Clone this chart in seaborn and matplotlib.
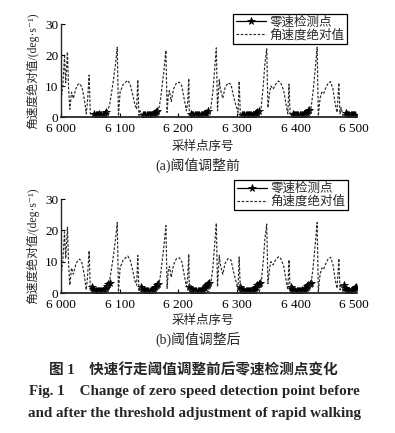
import numpy as np
import pandas as pd
import matplotlib
matplotlib.use("Agg")
import matplotlib.pyplot as plt
import seaborn as sns

# angular velocity magnitude (deg/s), same in both panels
gyro_idx = [6000, 6003, 6006, 6008, 6011, 6013, 6015, 6018, 6021, 6025, 6029, 6032, 6036,
            6040, 6043, 6045, 6048, 6050, 6053, 6060, 6068, 6076, 6078, 6083, 6088, 6093,
            6096, 6098, 6101, 6103, 6106, 6110, 6114, 6118, 6122, 6126, 6129, 6131, 6133,
            6135, 6138, 6150, 6163, 6166, 6170, 6175, 6179, 6181, 6183, 6185, 6188, 6192,
            6197, 6202, 6206, 6210, 6214, 6216, 6218, 6219, 6221, 6235, 6252, 6255, 6259,
            6262, 6265, 6267, 6270, 6272, 6276, 6280, 6285, 6290, 6294, 6298, 6302, 6304,
            6306, 6320, 6338, 6341, 6345, 6348, 6351, 6353, 6356, 6358, 6362, 6366, 6371,
            6375, 6380, 6384, 6387, 6389, 6391, 6405, 6423, 6426, 6430, 6434, 6437, 6439,
            6442, 6445, 6448, 6452, 6456, 6460, 6464, 6468, 6471, 6474, 6476, 6478, 6481,
            6492, 6503]
gyro_val = [5.5, 10.0, 19.5, 11.0, 21.0, 9.0, 2.5, 8.0, 6.0, 9.0, 10.5, 10.8, 9.5,
            5.5, 1.0, 4.5, 13.5, 1.0, 0.5, 0.3, 0.3, 0.4, 1.2, 4.0, 10.0, 17.0,
            22.5, 0.3, 8.5, 9.0, 10.5, 11.2, 11.8, 10.5, 7.5, 4.0, 2.5, 12.0, 0.5,
            2.0, 0.4, 0.3, 0.4, 1.5, 6.0, 14.0, 21.5, 1.5, 7.0, 8.5, 5.0, 9.0,
            11.0, 11.2, 10.0, 6.0, 2.0, 4.5, 12.4, 0.5, 0.8, 0.3, 0.4, 2.0, 8.0,
            15.0, 22.3, 2.0, 12.0, 9.0, 6.0, 9.5, 11.0, 10.5, 7.0, 4.0, 1.5, 11.5,
            0.5, 0.3, 0.4, 2.0, 10.0, 17.5, 22.0, 3.0, 8.0, 10.0, 9.0, 10.5, 11.6,
            11.0, 8.5, 4.0, 1.0, 10.6, 0.5, 0.3, 0.4, 2.0, 8.0, 16.0, 22.5, 0.3,
            6.0, 8.0, 7.5, 9.5, 11.0, 11.4, 9.0, 4.0, 1.5, 11.0, 1.0, 3.0, 0.5,
            0.3, 0.3]

# zero speed detection points, before threshold adjustment (a)
zs_a_start = [6057, 6140, 6222, 6309, 6395, 6486]
zs_a_vals = [
    [0.9, 0.6, 0.5, 0.7, 0.9, 0.7, 0.5, 0.6, 0.8, 1.1, 1.5],
    [0.8, 0.6, 0.5, 0.6, 0.8, 0.6, 0.5, 0.6, 0.7, 0.9, 1.2, 1.6, 2.0],
    [0.9, 0.6, 0.5, 0.6, 0.7, 0.5, 0.5, 0.6, 0.7, 0.6, 0.7, 0.9, 1.1, 1.4, 1.8],
    [0.8, 0.6, 0.5, 0.6, 0.8, 0.6, 0.5, 0.5, 0.6, 0.7, 0.8, 1.0, 1.2, 1.5, 1.9],
    [0.9, 0.7, 0.5, 0.6, 0.7, 0.6, 0.5, 0.5, 0.6, 0.7, 0.9, 1.1, 1.4, 1.8, 2.1],
    [1.2, 0.8, 0.6, 0.5, 0.6, 0.7, 0.6, 0.7, 0.8],
]
# zero speed detection points, after threshold adjustment (b)
zs_b_start = [6053, 6137, 6219, 6305, 6392, 6482]
zs_b_vals = [
    [1.8, 1.2, 0.8, 0.6, 0.5, 0.5, 0.6, 0.5, 0.6, 0.7, 0.9, 1.2, 1.6, 2.2, 2.9, 3.2],
    [1.8, 1.2, 0.8, 0.6, 0.5, 0.6, 0.5, 0.5, 0.6, 0.8, 1.0, 1.4, 1.9, 2.5, 3.0],
    [1.9, 1.3, 0.9, 0.6, 0.5, 0.5, 0.6, 0.5, 0.5, 0.6, 0.7, 0.9, 1.2, 1.6, 2.1, 2.7, 3.0, 3.2],
    [2.0, 1.4, 0.9, 0.7, 0.5, 0.5, 0.6, 0.5, 0.5, 0.6, 0.7, 0.9, 1.1, 1.5, 2.0, 2.6, 3.0, 3.3],
    [1.9, 1.3, 0.8, 0.6, 0.5, 0.5, 0.6, 0.5, 0.6, 0.7, 0.8, 1.0, 1.3, 1.7, 2.2, 2.7, 3.0, 3.2],
    [2.4, 1.6, 1.1, 0.8, 0.6, 0.5, 0.6, 0.8, 1.0, 1.3, 1.6, 2.0],
]

yticks = [0, 10, 20, 30]
xticks = [6000, 6100, 6200, 6300, 6400, 6500]
xtick_labels = ["6 000", "6 100", "6 200", "6 300", "6 400", "6 500"]


def zs_frame(starts, vals):
    rows = []
    for k, (s, v) in enumerate(zip(starts, vals)):
        for j, y in enumerate(v):
            rows.append({"idx": s + 2 * j, "val": y, "cluster": k})
    return pd.DataFrame(rows)


gyro = pd.DataFrame({"idx": gyro_idx, "val": gyro_val})

sns.set_style("ticks")
plt.rcParams["font.family"] = ["Liberation Serif", "Noto Sans CJK SC", "DejaVu Sans"]

fig = plt.figure(figsize=(3.95, 4.33), dpi=100)
ax_a = fig.add_axes([61 / 395, 1 - 117 / 433, 296 / 395, 93 / 433])
ax_b = fig.add_axes([61 / 395, 1 - 293 / 433, 296 / 395, 94 / 433])

panels = [(ax_a, zs_frame(zs_a_start, zs_a_vals), (0.966, 1.108)),
          (ax_b, zs_frame(zs_b_start, zs_b_vals), (0.97, 1.20))]

for ax, zs, anchor in panels:
    sns.lineplot(data=zs, x="idx", y="val", units="cluster", estimator=None,
                 color="black", lw=0.9, marker="*", markersize=5.5,
                 markeredgewidth=0.6, markeredgecolor="black", ax=ax,
                 label="零速检测点", legend=False)
    sns.lineplot(data=gyro, x="idx", y="val", color="#2a2a2a", lw=0.85,
                 linestyle=(0, (2.2, 1.4)), ax=ax, label="角速度绝对值", legend=False)
    ax.set_xlim(6000, 6505)
    ax.set_ylim(0, 30)
    ax.set_xticks(xticks)
    ax.set_xticklabels(xtick_labels)
    ax.set_yticks(yticks)
    ax.tick_params(direction="in", length=3, width=0.8, labelsize=9.5, colors="black")
    ax.tick_params(axis="x", pad=4.5)
    ax.tick_params(axis="y", pad=2)
    ax.set_xlabel("")
    ax.set_ylabel("角速度绝对值/(deg·s⁻¹)", fontsize=8.5, labelpad=4)
    sns.despine(ax=ax)
    ax.spines["left"].set_linewidth(1.0)
    ax.spines["bottom"].set_linewidth(1.3)

    # one legend entry per series (units= makes one line per cluster)
    handles, labels = ax.get_legend_handles_labels()
    seen = {}
    for h, l in zip(handles, labels):
        if l not in seen:
            seen[l] = h
    leg = ax.legend(list(seen.values()), list(seen.keys()),
                    loc="upper right", bbox_to_anchor=anchor, fontsize=9,
                    frameon=True, fancybox=False, handlelength=2.4,
                    borderpad=0.2, labelspacing=0.05, handletextpad=0.3,
                    borderaxespad=0)
    leg.get_frame().set_edgecolor("black")
    leg.get_frame().set_linewidth(0.9)
    leg.get_frame().set_alpha(1)

fig.text(203 / 395, 1 - 147 / 433, "采样点序号", ha="center", va="center", fontsize=9)
fig.text(198 / 395, 1 - 165 / 433, "(a)阈值调整前", ha="center", va="center", fontsize=10)
fig.text(203 / 395, 1 - 321 / 433, "采样点序号", ha="center", va="center", fontsize=9)
fig.text(198 / 395, 1 - 339 / 433, "(b)阈值调整后", ha="center", va="center", fontsize=10)

fig.text(193 / 395, 1 - 370 / 433, "图 1    快速行走阈值调整前后零速检测点变化",
         ha="center", va="center", fontsize=10.5, fontweight="bold")
fig.text(194 / 395, 1 - 391 / 433, "Fig. 1    Change of zero speed detection point before",
         ha="center", va="center", fontsize=10.8, fontweight="bold")
fig.text(194 / 395, 1 - 413 / 433, "and after the threshold adjustment of rapid walking",
         ha="center", va="center", fontsize=10.8, fontweight="bold")

fig.savefig("out.png", dpi=100, facecolor="white")
